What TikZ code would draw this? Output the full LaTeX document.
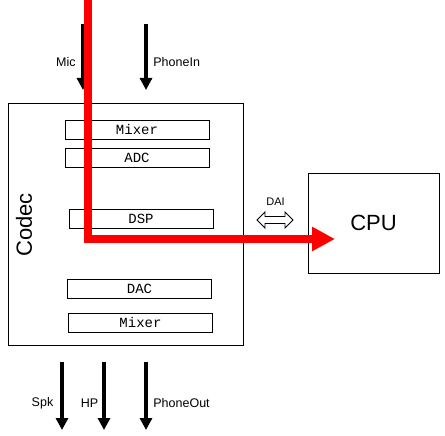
\documentclass[tikz,border=0pt]{standalone}
\usepackage{fontspec}
\setmainfont{Liberation Sans}
\setmonofont{Liberation Mono}
\usetikzlibrary{arrows.meta, positioning}

\begin{document}
\begin{tikzpicture}[x=1pt,y=-1pt,line width=0.8pt]
    \tikzstyle{block}=[draw=black, rectangle, inner sep=0pt]
    \tikzstyle{unit}=[block, minimum width=144pt, minimum height=19pt, font=\ttfamily\fontsize{14}{16}\selectfont]
    \tikzstyle{sig}=[line width=3.5pt, -{Triangle[length=12pt,width=12pt]}]
    \tikzstyle{path red}=[draw=red, line width=8pt, -{Triangle[length=23pt,width=23pt]}]
    \tikzstyle{annot}=[font=\fontsize{12.5}{14}\selectfont, inner sep=0pt]

    \useasboundingbox (0,0) rectangle (445,436);

    % Draw the codec and the cpu
    \node[block, minimum width=235pt, minimum height=242pt] (codec) at (125.5,224) {};
    \node[block, minimum width=131pt, minimum height=100pt, font=\fontsize{22}{26}\selectfont] (cpu) at (373.5,223) {CPU};
    \node[rotate=90, font=\fontsize{22}{26}\selectfont, inner sep=0pt] (codecl) at (24,225) {Codec};

    % Draw the units inside the codec
    \foreach \name / \txt / \x / \y in {mixin/Mixer/137/129.5, adc/ADC/137/157.5, dsp/DSP/141/218.5, dac/DAC/139.5/288.5, mixout/Mixer/140.5/322.5}
        \node[unit] (\name) at (\x,\y) {\txt};

    % Inputs and outputs
    \foreach \name / \x / \ya / \yb in {mic/83/24/90, phonein/146/24/90, spk/62/362/430, hp/104/362/430, phoneout/146/362/430}
    {
        \coordinate (\name-a) at (\x,\ya);
        \coordinate (\name-b) at (\x,\yb);
        \draw[sig] (\name-a) -- (\name-b);
    }
    \node[annot, anchor=east] at (76,62) {Mic};
    \node[annot, anchor=west] at (153,62) {PhoneIn};
    \node[annot] at (42.5,403) {Spk};
    \node[annot] at (89.5,403) {HP};
    \node[annot, anchor=west] at (153,403) {PhoneOut};

    % The DAI link
    \node[annot, font=\fontsize{11}{13}\selectfont] (dail) at (275.5,202) {DAI};
    \draw[line width=0.8pt, fill=white] (257,220) -- (265,212) -- (265,216.5) -- (285,216.5) -- (285,212)
        -- (293,220) -- (285,228) -- (285,223.5) -- (265,223.5) -- (265,228) -- cycle;

    % The signal path
    \coordinate (redtop) at (88,0);
    \coordinate (redend) at (335,239);
    \draw[path red] (redtop) |- (redend);

\end{tikzpicture}
\end{document}
